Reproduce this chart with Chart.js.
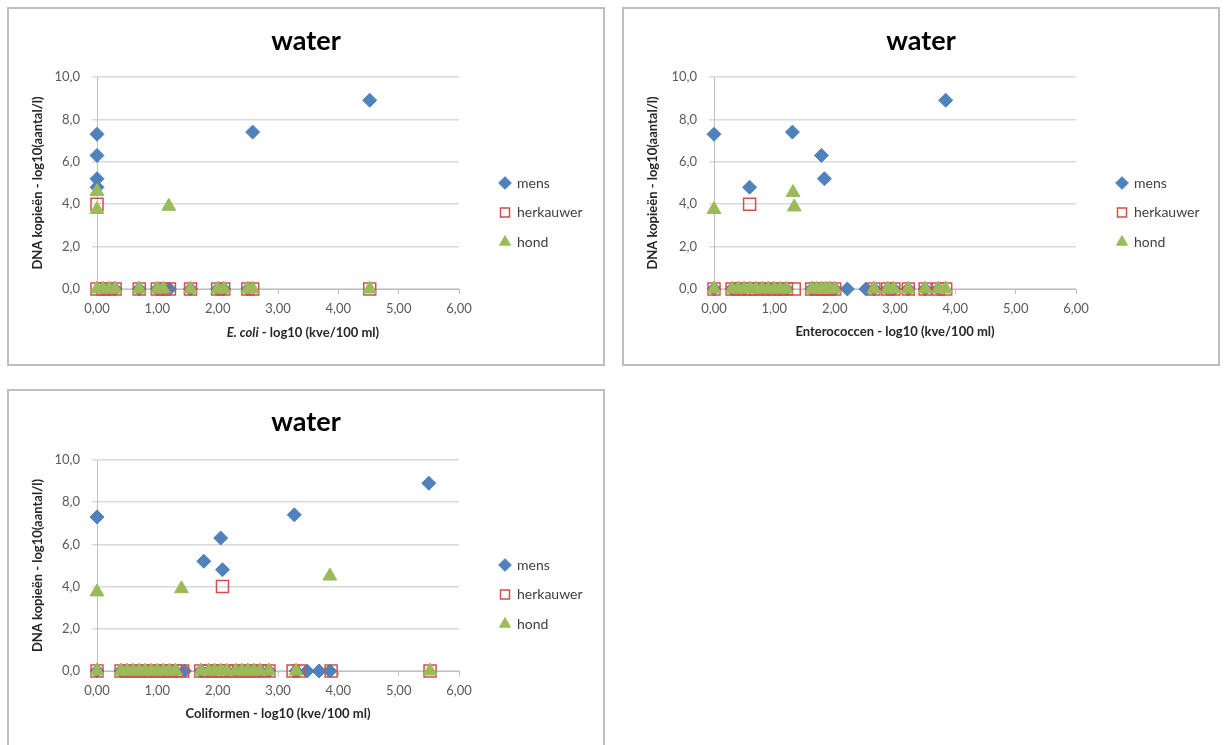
<!DOCTYPE html>
<html>
<head>
<meta charset="utf-8">
<script src="https://cdn.jsdelivr.net/npm/chart.js@4.4.0/dist/chart.umd.min.js"></script>
<style>
    body { margin: 0; background: #fff; width: 1227px; height: 745px; overflow: hidden; position: relative; }
    .box { position: absolute; border: 2px solid #BEBEBE; background: #fff; }
    .box canvas { display: block; }
</style>
</head>
<body>
<div class="box" style="left:7px; top:7px;"><canvas id="chart-ecoli" width="594" height="355"></canvas></div>
<div class="box" style="left:622px; top:7px;"><canvas id="chart-entero" width="594" height="355"></canvas></div>
<div class="box" style="left:7px; top:389px;"><canvas id="chart-coli" width="594" height="355"></canvas></div>
<script>
// series names + tick labels
const seriesNames = ['mens', 'herkauwer', 'hond'];
const yTickLabels = ['0,0', '2,0', '4,0', '6,0', '8,0', '10,0'];
const xTickLabels = ['0,00', '1,00', '2,00', '3,00', '4,00', '5,00', '6,00'];

// E. coli - [x, y] pairs
const ecoliMens = [[0, 7.3], [0, 6.3], [0, 5.2], [0, 4.8], [2.58, 7.4], [4.52, 8.9],
    [0.1, 0], [0.2, 0], [0.3, 0], [0.7, 0], [1.0, 0], [1.1, 0], [1.2, 0], [1.55, 0], [2.0, 0], [2.1, 0], [2.5, 0]];
const ecoliHerk = [[0, 4.0], [0, 0], [0.1, 0], [0.2, 0], [0.3, 0], [0.7, 0], [1.0, 0], [1.1, 0], [1.2, 0],
    [1.55, 0], [2.0, 0], [2.1, 0], [2.5, 0], [2.58, 0], [4.52, 0]];
const ecoliHond = [[0, 4.6], [0, 3.75], [1.19, 3.9], [0, 0], [0.1, 0], [0.2, 0], [0.3, 0], [0.7, 0], [1.0, 0],
    [1.1, 0], [1.55, 0], [2.0, 0], [2.1, 0], [2.5, 0], [2.58, 0], [4.52, 0]];

// Enterococcen
const enteroMens = [[0, 7.3], [0.59, 4.8], [1.3, 7.4], [1.78, 6.3], [1.83, 5.2], [3.84, 8.9],
    [0, 0], [0.3, 0], [0.4, 0], [0.5, 0], [0.7, 0], [0.8, 0], [0.9, 0], [1.0, 0], [1.1, 0], [1.2, 0],
    [1.62, 0], [1.7, 0], [1.92, 0], [2.0, 0], [2.21, 0], [2.52, 0], [2.65, 0], [2.88, 0], [2.98, 0],
    [3.22, 0], [3.5, 0], [3.72, 0]];
const enteroHerk = [[0.59, 4.0], [0, 0], [0.3, 0], [0.4, 0], [0.5, 0], [0.6, 0], [0.7, 0], [0.8, 0], [0.9, 0],
    [1.0, 0], [1.1, 0], [1.2, 0], [1.33, 0], [1.62, 0], [1.7, 0], [1.78, 0], [1.85, 0], [1.92, 0], [2.0, 0],
    [2.65, 0], [2.88, 0], [2.98, 0], [3.22, 0], [3.5, 0], [3.72, 0], [3.84, 0]];
const enteroHond = [[0, 3.75], [1.31, 4.55], [1.33, 3.87], [0, 0], [0.3, 0], [0.4, 0], [0.5, 0], [0.6, 0],
    [0.7, 0], [0.8, 0], [0.9, 0], [1.0, 0], [1.1, 0], [1.2, 0], [1.62, 0], [1.7, 0], [1.78, 0], [1.85, 0],
    [1.92, 0], [2.0, 0], [2.65, 0], [2.88, 0], [2.98, 0], [3.22, 0], [3.5, 0], [3.72, 0], [3.84, 0]];

// Coliformen
const coliMens = [[0, 7.3], [1.77, 5.2], [2.05, 6.3], [2.08, 4.8], [3.27, 7.4], [5.5, 8.9],
    [0, 0], [0.4, 0], [0.5, 0], [0.6, 0], [0.7, 0], [0.8, 0], [0.9, 0], [1.0, 0], [1.1, 0], [1.2, 0], [1.3, 0],
    [1.45, 0], [1.72, 0], [1.85, 0], [1.95, 0], [2.15, 0], [2.3, 0], [2.4, 0], [2.5, 0], [2.6, 0], [2.7, 0],
    [2.85, 0], [3.3, 0], [3.48, 0], [3.68, 0], [3.86, 0]];
const coliHerk = [[2.08, 4.0], [0, 0], [0.4, 0], [0.5, 0], [0.6, 0], [0.7, 0], [0.8, 0], [0.9, 0], [1.0, 0],
    [1.1, 0], [1.2, 0], [1.3, 0], [1.42, 0], [1.72, 0], [1.85, 0], [1.95, 0], [2.05, 0], [2.15, 0], [2.3, 0],
    [2.4, 0], [2.5, 0], [2.6, 0], [2.7, 0], [2.85, 0], [3.25, 0], [3.35, 0], [3.88, 0], [5.52, 0]];
const coliHond = [[0, 3.75], [1.4, 3.9], [3.86, 4.5], [0, 0], [0.4, 0], [0.5, 0], [0.6, 0], [0.7, 0], [0.8, 0],
    [0.9, 0], [1.0, 0], [1.1, 0], [1.2, 0], [1.3, 0], [1.72, 0], [1.85, 0], [1.95, 0], [2.05, 0], [2.15, 0],
    [2.3, 0], [2.4, 0], [2.5, 0], [2.6, 0], [2.7, 0], [2.85, 0], [3.3, 0], [5.52, 0]];

const FONT = 'Lato, "Open Sans", sans-serif';

// fixed legend width + position (Excel style legend on the right)
const legendPlace = {
    id: 'legendPlace',
    beforeLayout(chart, args, opts) {
        const lg = chart.legend;
        if (lg && !lg._fixed) {
            const fit = lg.fit;
            lg.fit = function() { fit.call(this); this.width = opts.width; };
            lg._fixed = true;
        }
    },
    afterLayout(chart, args, opts) {
        const lg = chart.legend;
        lg.left = opts.left; lg.right = chart.width;
        lg.top = opts.top; lg.bottom = chart.height;
    }
};

// x axis title with an italic part (E. coli)
const mixedXTitle = {
    id: 'mixedXTitle',
    afterDraw(chart, args, opts) {
        if (!opts.parts) return;
        const ctx = chart.ctx;
        ctx.save();
        ctx.textBaseline = 'middle';
        ctx.fillStyle = '#262626';
        let total = 0;
        const widths = opts.parts.map(p => {
            ctx.font = (p.italic ? 'italic ' : '') + 'bold 13px ' + FONT;
            const w = ctx.measureText(p.text).width;
            total += w;
            return w;
        });
        let x = opts.x - total / 2;
        opts.parts.forEach((p, i) => {
            ctx.font = (p.italic ? 'italic ' : '') + 'bold 13px ' + FONT;
            ctx.fillText(p.text, x, opts.y);
            x += widths[i];
        });
        ctx.restore();
    }
};

function makeChart(id, mens, herk, hond, cfg) {
    const toPts = arr => arr.map(p => ({ x: p[0], y: p[1] }));
    const ctx = document.getElementById(id).getContext('2d');
    return new Chart(ctx, {
        type: 'scatter',
        data: {
            datasets: [{
                label: seriesNames[0],
                data: toPts(mens),
                pointStyle: 'rectRot',
                pointRadius: 7,
                backgroundColor: '#4F81BD',
                borderColor: '#4F81BD',
                borderWidth: 1,
                clip: false,
                order: 3
            }, {
                label: seriesNames[1],
                data: toPts(herk),
                pointStyle: 'rect',
                pointRadius: 8.5,
                backgroundColor: 'rgba(0,0,0,0)',
                borderColor: '#D0504D',
                borderWidth: 1.5,
                clip: false,
                order: 2
            }, {
                label: seriesNames[2],
                data: toPts(hond),
                pointStyle: 'triangle',
                pointRadius: 8,
                backgroundColor: '#9BBB59',
                borderColor: '#9BBB59',
                borderWidth: 1,
                clip: false,
                order: 1
            }]
        },
        options: {
            responsive: false,
            animation: false,
            devicePixelRatio: 1,
            layout: { padding: 0 },
            plugins: {
                title: {
                    display: true,
                    text: 'water',
                    color: '#000',
                    font: { family: FONT, size: 27, weight: 'bold', lineHeight: 1.2 },
                    padding: { top: cfg.titleTop, bottom: cfg.titleBottom }
                },
                legend: {
                    position: 'right',
                    align: 'start',
                    labels: {
                        usePointStyle: true,
                        boxWidth: 10,
                        boxHeight: 9,
                        padding: 15.5,
                        color: '#404040',
                        font: { family: FONT, size: 14 },
                        sort: (a, b) => a.datasetIndex - b.datasetIndex
                    }
                },
                tooltip: { enabled: false },
                legendPlace: { width: cfg.legendWidth, left: cfg.legendLeft, top: 151.5 },
                mixedXTitle: cfg.mixedTitle || {}
            },
            scales: {
                x: {
                    type: 'linear',
                    min: 0,
                    max: 6,
                    afterFit: s => { s.height = cfg.xHeight; },
                    ticks: {
                        stepSize: 1,
                        padding: 7,
                        color: '#595959',
                        font: { family: FONT, size: 13 },
                        callback: v => xTickLabels[v]
                    },
                    grid: { drawOnChartArea: false, drawTicks: true, tickLength: 5, color: '#BFBFBF' },
                    border: { display: true, color: '#BFBFBF', width: 1 },
                    title: {
                        display: !cfg.mixedTitle,
                        text: cfg.xTitle,
                        color: '#262626',
                        font: { family: FONT, size: 13, weight: 'bold', lineHeight: 1.2 },
                        padding: { top: 0, bottom: 24 }
                    }
                },
                y: {
                    type: 'linear',
                    min: 0,
                    max: 10,
                    afterFit: s => { s.width = cfg.yWidth; },
                    ticks: {
                        stepSize: 2,
                        padding: 12,
                        color: '#595959',
                        font: { family: FONT, size: 13 },
                        callback: v => yTickLabels[v / 2]
                    },
                    grid: { color: '#D9D9D9', lineWidth: 1.5, tickLength: 5 },
                    border: { display: true, color: '#BFBFBF', width: 1 },
                    title: {
                        display: true,
                        text: 'DNA kopieën - log10(aantal/l)',
                        color: '#262626',
                        font: { family: FONT, size: 13, weight: 'bold', lineHeight: 1.2 },
                        padding: { top: 21, bottom: 0 }
                    }
                }
            }
        },
        plugins: [legendPlace, mixedXTitle]
    });
}

makeChart('chart-ecoli', ecoliMens, ecoliHerk, ecoliHond, {
    titleTop: 15.8, titleBottom: 19.8, yWidth: 88, xHeight: 75,
    legendWidth: 144, legendLeft: 475.5,
    mixedTitle: { x: 294, y: 324, parts: [{ text: 'E. coli', italic: true }, { text: ' - log10 (kve/100 ml)' }] }
});
makeChart('chart-entero', enteroMens, enteroHerk, enteroHond, {
    titleTop: 15.8, titleBottom: 19.8, yWidth: 90, xHeight: 75,
    legendWidth: 142, legendLeft: 477.5, xTitle: 'Enterococcen - log10 (kve/100 ml)'
});
makeChart('chart-coli', coliMens, coliHerk, coliHond, {
    titleTop: 14.8, titleBottom: 21.8, yWidth: 88, xHeight: 75,
    legendWidth: 144, legendLeft: 475.5, xTitle: 'Coliformen - log10 (kve/100 ml)'
});
</script>
</body>
</html>
